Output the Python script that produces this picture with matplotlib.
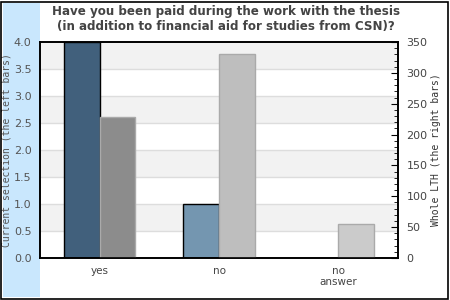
import matplotlib.pyplot as plt
import numpy as np
from matplotlib.patches import Rectangle

categories = ["yes", "no", "no\nanswer"]
current = [4, 1, 0]
whole = [228, 331, 55]

left_colors = ["#41607c", "#7496b0", "#a9c0d3"]
right_colors = ["#8c8c8c", "#bebebe", "#cbcbcb"]

W, H = 450, 300
fig = plt.figure(figsize=(W / 100, H / 100), dpi=100)

# light blue strip on the left and outer border
fig.patches.append(Rectangle((3 / W, 3 / H), 37 / W, 294 / H, transform=fig.transFigure,
                             facecolor="#c9e7fd", edgecolor="none", zorder=-1))
fig.patches.append(Rectangle((1 / W, 1 / H), 447 / W, 297 / H, transform=fig.transFigure,
                             facecolor="none", edgecolor="black", linewidth=1.2, zorder=5))

ax = fig.add_axes([40 / W, 42 / H, 358 / W, 216 / H])
ax2 = ax.twinx()

x = np.arange(len(categories))
bw = 0.3

# striped background
for lo in np.arange(0.5, 4.0, 1.0):
    ax.axhspan(lo, lo + 0.5, color="#f2f2f2", zorder=0, linewidth=0)
for y in np.arange(0.5, 4.0, 0.5):
    ax.axhline(y, color="#dddddd", linewidth=1, zorder=0.5)

for i in range(len(categories)):
    if current[i] > 0:
        ax.bar(x[i] - bw / 2, current[i], bw, color=left_colors[i],
               edgecolor="black", linewidth=1, zorder=2)
for i in range(len(categories)):
    ax2.bar(x[i] + bw / 2, whole[i], bw, color=right_colors[i],
            edgecolor="#aaaaaa", linewidth=1, zorder=2)

ax.set_xlim(-0.5, 2.5)
ax.set_ylim(0, 4)
ax2.set_ylim(0, 350)
ax.set_xticks(x)
ax.set_xticklabels(categories, fontsize=7.5, color="#444444", linespacing=1.1)
ax.tick_params(axis="x", length=0, pad=6)
ax.set_yticks(np.arange(0, 4.01, 0.5))
ax.set_yticklabels([f"{v:.1f}" for v in np.arange(0, 4.01, 0.5)], fontsize=8, color="#555555")
ax.tick_params(axis="y", length=0, pad=6)

ax2.set_yticks(np.arange(0, 351, 50))
ax2.set_yticks(np.arange(0, 351, 10), minor=True)
ax2.tick_params(axis="y", which="major", direction="in", length=5, labelsize=8,
                labelcolor="#444444", pad=6)
ax2.tick_params(axis="y", which="minor", direction="in", length=3)

ax.set_ylabel("Current selection (the left bars)", fontsize=7, family="DejaVu Sans Mono",
              color="#555555")
ax.yaxis.set_label_coords(-0.08, 0.5)
ax2.set_ylabel("Whole LTH (the right bars)", fontsize=7, family="DejaVu Sans Mono",
               color="#333333")
ax2.yaxis.set_label_coords(1.093, 0.5)

for a in (ax, ax2):
    for s in a.spines.values():
        s.set_linewidth(1.2)

fig.text(226 / W, 1 - 19 / H,
         "Have you been paid during the work with the thesis\n(in addition to financial aid for studies from CSN)?",
         ha="center", va="center", fontsize=8.6, fontweight="bold", color="#444444",
         linespacing=1.25)

fig.savefig("out.png", dpi=100)
